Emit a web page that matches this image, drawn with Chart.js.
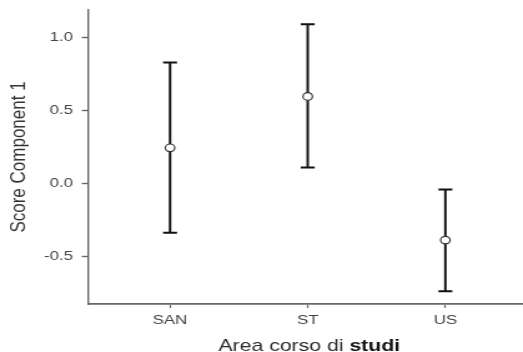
<!DOCTYPE html>
<html>
<head>
<meta charset="utf-8">
<script src="https://cdn.jsdelivr.net/npm/chart.js@4.4.0/dist/chart.umd.min.js"></script>
<style>
  html, body { margin: 0; padding: 0; background: #fff; }
</style>
</head>
<body>
<!-- drawn narrower and stretched sideways, like the reference -->
<canvas id="chart" width="419" height="352" style="width:523px;height:352px;display:block"></canvas>
<script>
const categories = ['SAN', 'ST', 'US'];
const means = [0.245, 0.596, -0.386];
const lower = [-0.336, 0.111, -0.735];
const upper = [0.828, 1.090, -0.040];
const yTicks = [-0.5, 0.0, 0.5, 1.0];

const FONT = "'Liberation Sans', Arial, sans-serif";
Chart.defaults.font.family = FONT;

// whisker lines, one segment per category (null breaks the line)
const whiskers = categories.flatMap((c, i) => [
  { x: i, y: lower[i] }, { x: i, y: upper[i] }, { x: i, y: null }
]);
const caps = categories.flatMap((c, i) => [{ x: i, y: lower[i] }, { x: i, y: upper[i] }]);
const centers = categories.map((c, i) => ({ x: i, y: means[i] }));

// x title with the last word in bold
const xTitle = {
  id: 'xTitle',
  afterDraw(chart) {
    const { ctx, chartArea } = chart;
    const a = 'Area corso di ', b = 'studi';
    ctx.save();
    ctx.font = '17px ' + FONT;
    const wa = ctx.measureText(a).width;
    ctx.font = 'bold 17px ' + FONT;
    const wb = ctx.measureText(b).width;
    const x = (chartArea.left + chartArea.right) / 2 + 3 - (wa + wb) / 2;
    const y = chart.height - 1.5;
    ctx.textAlign = 'left';
    ctx.textBaseline = 'alphabetic';
    ctx.font = '17px ' + FONT;
    ctx.fillStyle = '#2b2b2b';
    ctx.fillText(a, x, y);
    ctx.font = 'bold 17px ' + FONT;
    ctx.fillStyle = '#111';
    ctx.fillText(b, x + wa, y);
    ctx.restore();
  }
};

new Chart(document.getElementById('chart'), {
  type: 'scatter',
  data: {
    datasets: [{
      data: centers,
      pointStyle: 'circle',
      pointRadius: 3.8,
      pointBorderWidth: 1.2,
      pointBackgroundColor: '#ffffff',
      pointBorderColor: '#333333'
    }, {
      data: caps,
      pointStyle: 'line',
      pointRadius: 5.6,
      pointBorderWidth: 2,
      pointBorderColor: '#111111'
    }, {
      data: whiskers,
      showLine: true,
      spanGaps: false,
      borderColor: '#111111',
      borderWidth: 2,
      pointRadius: 0
    }]
  },
  options: {
    responsive: false,
    animation: false,
    layout: { autoPadding: false, padding: { top: 10, left: 0, right: 0, bottom: 0 } },
    plugins: {
      legend: { display: false },
      tooltip: { enabled: false }
    },
    scales: {
      x: {
        type: 'linear',
        min: -0.596,
        max: 2.564,
        afterFit(s) { s.height = 48; },
        afterBuildTicks(s) { s.ticks = categories.map((c, i) => ({ value: i })); },
        ticks: {
          callback: v => categories[v],
          color: '#444',
          font: { size: 13.5 },
          padding: 4,
          autoSkip: false,
          maxRotation: 0
        },
        grid: { drawOnChartArea: false, tickLength: 4, color: '#666', tickWidth: 1.2 },
        border: { color: '#666', width: 1.8 }
      },
      y: {
        min: -0.823,
        max: 1.187,
        afterFit(s) { s.width = 70.5; },
        afterBuildTicks(s) { s.ticks = yTicks.map(v => ({ value: v })); },
        ticks: {
          callback: v => v.toFixed(1),
          color: '#444',
          font: { size: 13.5, lineHeight: 0.4 },
          padding: 7
        },
        grid: { drawOnChartArea: false, tickLength: 5, color: '#666', tickWidth: 1.4 },
        border: { color: '#666', width: 1.4 },
        title: {
          display: true,
          text: 'Score Component 1',
          color: '#333',
          font: { size: 17 },
          padding: { top: 5.2, bottom: 0 }
        }
      }
    }
  },
  plugins: [xTitle]
});
</script>
</body>
</html>
